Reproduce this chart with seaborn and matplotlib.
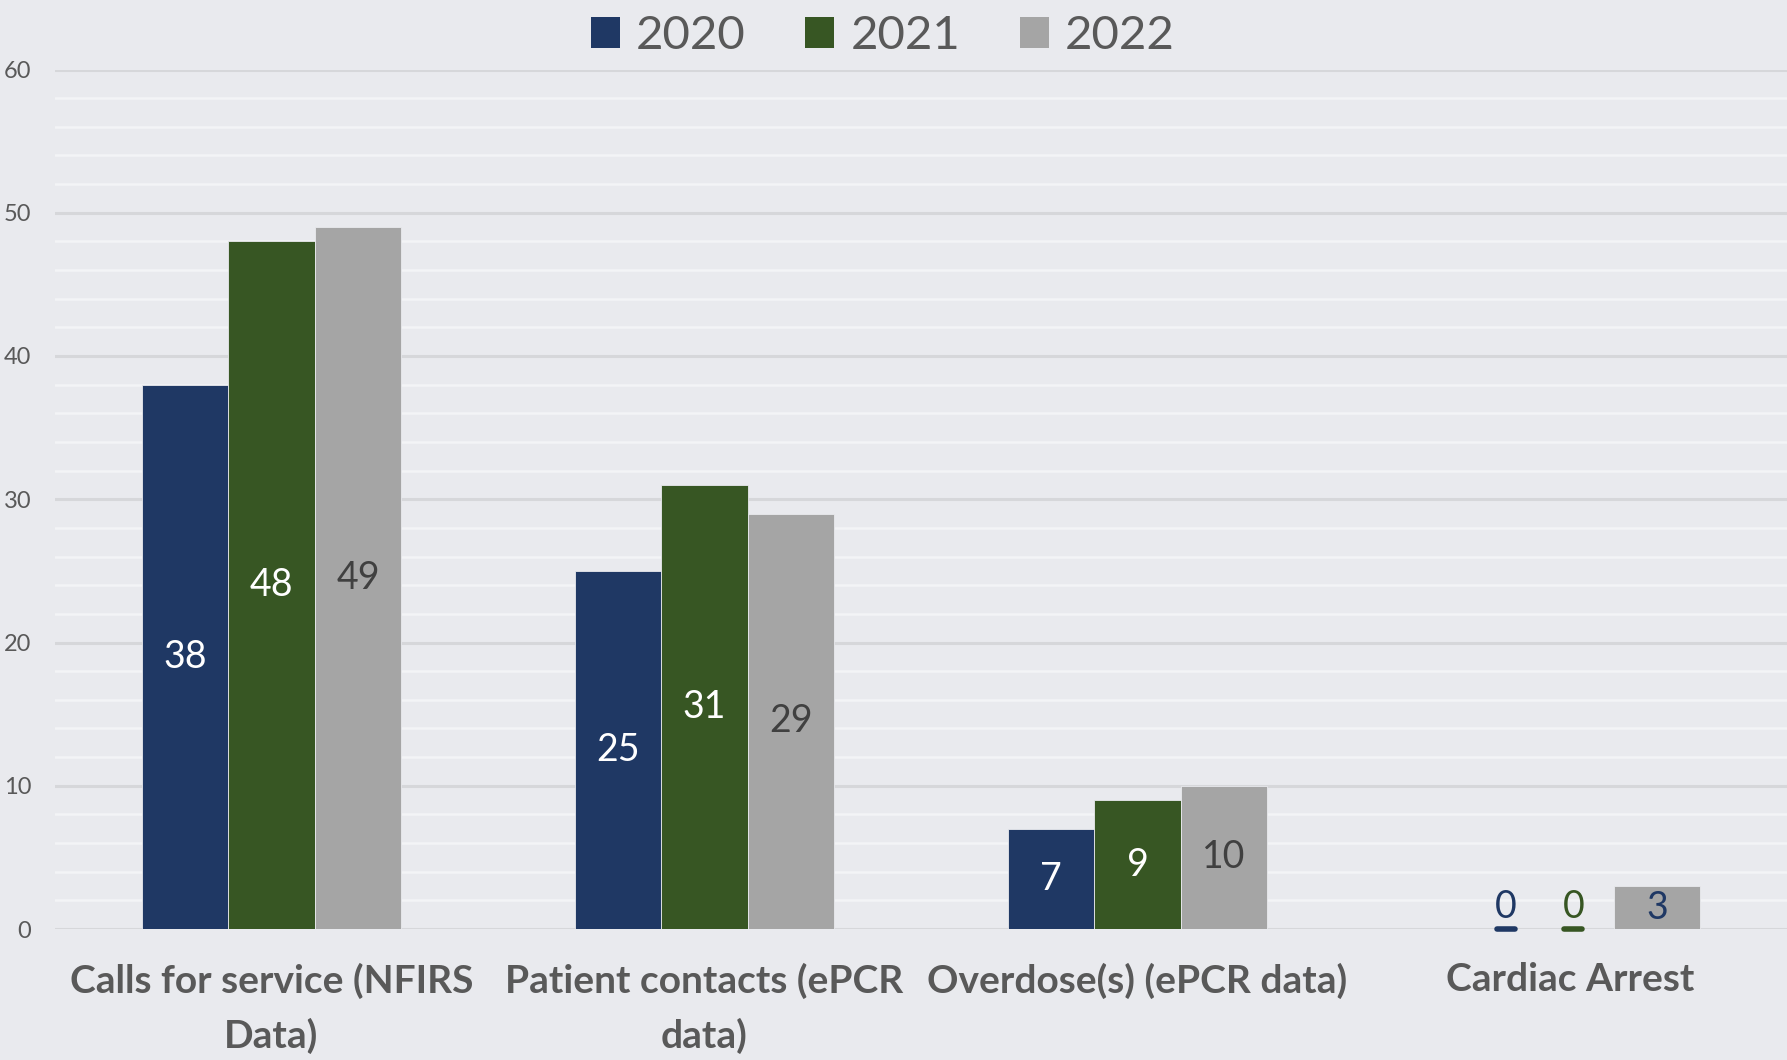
import matplotlib.pyplot as plt
from matplotlib.lines import Line2D
from matplotlib.patches import Patch
import numpy as np
import pandas as pd
import seaborn as sns

categories = [
    'Calls for service (NFIRS\nData)',
    'Patient contacts (ePCR\ndata)',
    'Overdose(s) (ePCR data)',
    'Cardiac Arrest',
]
years = ['2020', '2021', '2022']
values_2020 = [38, 25, 7, 0]
values_2021 = [48, 31, 9, 0]
values_2022 = [49, 29, 10, 3]

colors = ['#1F3864', '#375623', '#A5A5A5']
label_colors = ['white', 'white', '#404040']
zero_label_colors = ['#1F3864', '#375623', '#1F3864']
BG = '#E9EAEE'
TEXT = '#595959'

df = pd.DataFrame({
    'category': categories * 3,
    'year': np.repeat(years, len(categories)),
    'value': values_2020 + values_2021 + values_2022,
})

sns.set_theme(style='white')
plt.rcParams['font.family'] = ['Lato', 'DejaVu Sans']

fig = plt.figure(figsize=(17.87, 10.60), dpi=100, facecolor=BG)
ax = fig.add_axes([55 / 1787, 1 - 929 / 1060, 1 - 55 / 1787, (929 - 69.5) / 1060])
ax.set_facecolor(BG)

sns.barplot(data=df, x='category', y='value', hue='year', palette=colors,
            width=0.6, saturation=1, legend=False, ax=ax,
            edgecolor=BG, linewidth=0.6)

ax.set_xlim(-0.5, len(categories) - 0.5)
ax.set_ylim(0, 60)
ax.set_yticks(range(0, 61, 10))
ax.set_yticks(range(0, 61, 2), minor=True)
ax.grid(axis='y', which='major', color='#D6D7DA', linewidth=2.2)
ax.grid(axis='y', which='minor', color='#F3F4F6', linewidth=1.8)
ax.set_axisbelow(True)
for s in ax.spines.values():
    s.set_visible(False)
ax.set_xlabel('')
ax.set_ylabel('')
ax.tick_params(axis='y', which='both', length=0, labelsize=17, labelcolor=TEXT, pad=17)
ax.tick_params(axis='x', length=0, labelsize=28, labelcolor=TEXT, pad=24)
for t in ax.get_xticklabels():
    t.set_fontweight('bold')
    t.set_linespacing(1.65)

# value labels
zero_texts = []
for i, cont in enumerate(ax.containers):
    vals = [b.get_height() for b in cont]
    ax.bar_label(cont, labels=[f'{v:.0f}' if v > 0 else '' for v in vals],
                 label_type='center', fontsize=27, color=label_colors[i])
    for bar, v in zip(cont, vals):
        if v == 0:
            t = ax.annotate('0', (bar.get_x() + bar.get_width() / 2, 0),
                            xytext=(16 if i == 0 else 2, 3), textcoords='offset points',
                            ha='center', va='bottom', fontsize=27,
                            color=zero_label_colors[i])
            zero_texts.append(t)

# the small 2022 bar label reads in dark blue in the reference
for t in ax.texts:
    if t.get_text() == '3':
        t.set_color('#1F3864')

# underline the zero labels
fig.canvas.draw()
inv = fig.transFigure.inverted()
ybase = inv.transform(ax.transData.transform((0, 0)))[1]
for t in zero_texts:
    bb = t.get_window_extent()
    (x0, _), (x1, _) = inv.transform([(bb.x0 + 2, 0), (bb.x1 - 2, 0)])
    fig.add_artist(Line2D([x0, x1], [ybase, ybase], color=t.get_color(), linewidth=4))

handles = [Patch(facecolor=c, edgecolor='none') for c in colors]
fig.legend(handles, years, loc='center', bbox_to_anchor=(0.494, 0.966), ncol=3,
           frameon=False, fontsize=34, labelcolor=TEXT, handlelength=0.62,
           handleheight=0.62, handletextpad=0.34, columnspacing=1.26)

fig.savefig('out.png', dpi=100, facecolor=BG)
